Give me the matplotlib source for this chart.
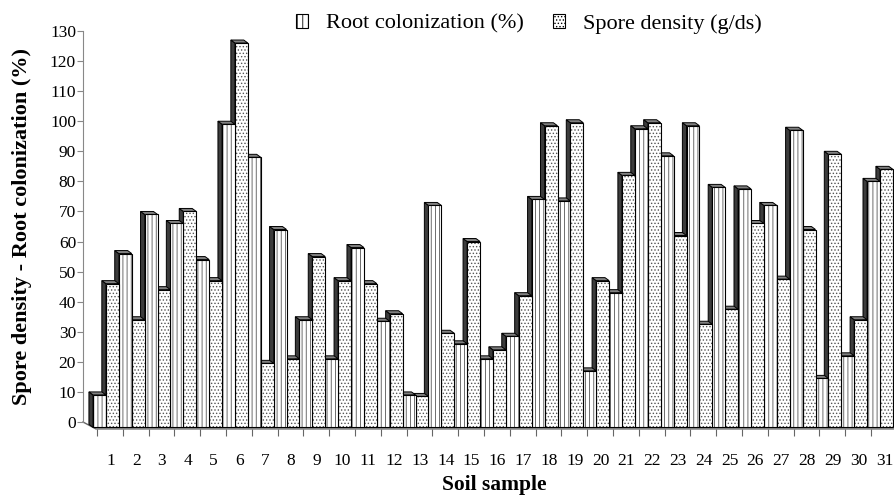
import matplotlib.pyplot as plt
from matplotlib.patches import Polygon, Patch

plt.rcParams['font.family'] = ['Liberation Serif', 'DejaVu Serif']
plt.rcParams['hatch.linewidth'] = 0.6

# values
samples = list(range(1, 32))
root_colonization = [9, 56, 69, 66, 54, 99, 88, 64, 34, 21,
                     58, 33.5, 9, 72, 26, 21, 28.5, 74, 73.5, 17,
                     43, 97.5, 88.5, 98.5, 78, 77.5, 72, 97, 14.5, 22, 80]
spore_density = [46, 34, 44, 70, 47, 126, 19.5, 21, 55, 47,
                 46, 36, 8.5, 29.5, 60, 24, 42, 98.5, 99.5, 47,
                 82, 99.5, 62, 32.5, 37.5, 66, 47.5, 64, 89, 34, 84]

# fake 3d look (excel style)
DX = 0.16    # depth shift to the left, x units
DY = 1.0     # depth shift upwards, y units
BASE = -1.8  # front face bottom sits a bit below the back zero line
W = 0.5

fig = plt.figure(figsize=(8.95, 4.96), dpi=100)
ax = fig.add_axes([83 / 895, (496 - 422) / 496, 812 / 895, 391 / 496])
ax.set_xlim(0.11, 31.58)
ax.set_ylim(0, 130)

bars = []
for i, s in enumerate(samples):
    bars.append((s - W / 2, root_colonization[i], '||||'))
    bars.append((s + W / 2, spore_density[i], '.....'))

# left bars drawn last so they hide the side faces of their right neighbours
for k, (xc, h, hatch) in reversed(list(enumerate(bars))):
    z = 2 + (len(bars) - k) * 0.01
    xl, xr = xc - W / 2, xc + W / 2
    side = Polygon([(xl, BASE), (xl, h), (xl - DX, h + DY), (xl - DX, BASE + DY)],
                   closed=True, fc='#3c3c3c', ec='black', lw=0.7, zorder=z, clip_on=False)
    top = Polygon([(xl, h), (xr, h), (xr - DX, h + DY), (xl - DX, h + DY)],
                  closed=True, fc='#808080', ec='black', lw=0.7, zorder=z, clip_on=False)
    ax.add_patch(side)
    ax.add_patch(top)
    b1 = ax.bar(xc, h - BASE, W, bottom=BASE, color='white', edgecolor='#555555',
                hatch=hatch, linewidth=0, zorder=z)
    b2 = ax.bar(xc, h - BASE, W, bottom=BASE, fill=False, edgecolor='black',
                linewidth=0.8, zorder=z)
    for p in list(b1) + list(b2):
        p.set_clip_on(False)

# floor edge and x tick marks
x0, x1 = ax.get_xlim()
ax.plot([x0, x0 + 0.5, x1], [0, -2.3, -2.3], color='#666666', lw=1, clip_on=False, zorder=1)
ax.vlines([s - 0.5 + 0.15 for s in samples], -2.3, -4.8, color='#666666', lw=0.8, clip_on=False)

ax.set_xticks([s + 0.17 for s in samples])
ax.set_xticklabels([str(s) for s in samples])
ax.tick_params(axis='x', length=0, pad=22, labelsize=12.5)
ax.set_yticks(range(0, 131, 10))
ax.tick_params(axis='y', direction='out', length=4, color='#888888', pad=1, labelsize=12.5)

for side_name in ['top', 'right', 'bottom']:
    ax.spines[side_name].set_visible(False)
ax.spines['left'].set_color('#888888')

ax.set_ylabel('Spore density - Root colonization (%)', fontsize=16, fontweight='bold', labelpad=13)
ax.set_xlabel('Soil sample', fontsize=15.5, fontweight='bold')
ax.xaxis.set_label_coords(0.507, -0.135)

handles = [Patch(fc='white', ec='black', hatch='|||', lw=0.8, label='Root colonization (%)'),
           Patch(fc='white', ec='black', hatch='.....', lw=0.8, label='Spore density (g/ds)')]
fig.legend(handles=handles, loc='center', bbox_to_anchor=(529 / 895, 1 - 24 / 496), ncol=2,
           frameon=False, fontsize=16, handlelength=0.55, handleheight=0.55,
           handletextpad=0.8, columnspacing=1.3)

fig.savefig('out.png', dpi=100)
